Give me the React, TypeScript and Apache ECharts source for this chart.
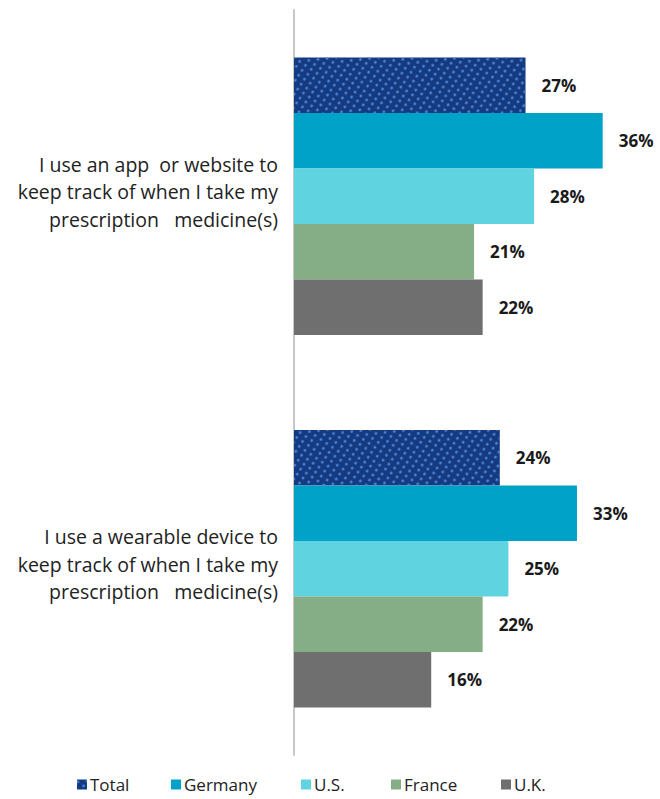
import React, { useEffect, useRef } from "react";
import * as echarts from "echarts";

const categories = [
  "I use an app  or website to\nkeep track of when I take my\nprescription   medicine(s)",
  "I use a wearable device to\nkeep track of when I take my\nprescription   medicine(s)",
];
const seriesNames = ["Total", "Germany", "U.S.", "France", "U.K."];
const totalValues = [27, 24];
const germanyValues = [36, 33];
const usValues = [28, 25];
const franceValues = [21, 22];
const ukValues = [22, 16];
const colors = ["#163a80", "#00a2c7", "#5fd3e0", "#86ae86", "#6f6f6f"];
const legendLefts = [77, 171, 301, 391, 501];

export default function App() {
  const ref = useRef<HTMLDivElement>(null);
  useEffect(() => {
    const chart = echarts.init(ref.current!, undefined, { renderer: "svg" });
    const values = [totalValues, germanyValues, usValues, franceValues, ukValues];
    const font = "Open Sans";
    chart.setOption({
      animation: false,
      grid: { left: 294, right: 23, top: 10, bottom: 44, containLabel: false },
      xAxis: {
        type: "value",
        min: 0,
        max: 40,
        show: false,
      },
      yAxis: {
        type: "category",
        inverse: true,
        data: categories,
        axisLine: { show: true, lineStyle: { color: "#c8c8c8", width: 2 } },
        axisTick: { show: false },
        axisLabel: {
          fontFamily: font,
          fontSize: 19.5,
          color: "#222",
          lineHeight: 27.5,
          align: "right",
          margin: 16,
          formatter: (v: string) =>
            v
              .split("\n")
              .map((l) => "{t|" + l + "}")
              .join("\n") + "\n{s| }",
          rich: {
            t: { fontFamily: font, fontSize: 19.5, color: "#222", lineHeight: 27.5, align: "right" },
            s: { fontSize: 2, lineHeight: 9 },
          },
        },
      },
      legend: seriesNames.map((name, i) => ({
        top: 776,
        left: legendLefts[i],
        itemWidth: 10,
        itemHeight: 10,
        itemGap: 5,
        padding: 0,
        icon: "rect",
        textStyle: { fontFamily: font, fontSize: 17, color: "#222", padding: [0, 0, 0, -2] },
        data: [name],
      })),
      series: seriesNames.map((name, i) => ({
        name,
        type: "bar",
        data: values[i],
        barGap: "0%",
        barCategoryGap: "25.5%",
        itemStyle: {
          color: colors[i],
          ...(i === 0
            ? {
                decal: {
                  symbol: "circle",
                  color: "#4a8ae0",
                  symbolSize: 0.9,
                  dashArrayX: [4, 3],
                  dashArrayY: [3, 3],
                  rotation: 0.6,
                },
              }
            : {}),
        },
        label: {
          show: true,
          position: "right",
          distance: 16,
          formatter: "{c}%",
          fontFamily: font,
          fontWeight: "bold",
          fontSize: 17,
          color: "#1a1a1a",
        },
      })),
    });
    return () => chart.dispose();
  }, []);
  return (
    <div
      ref={ref}
      style={{ position: "fixed", left: 0, top: 0, width: 660, height: 799, background: "#fff" }}
    />
  );
}
